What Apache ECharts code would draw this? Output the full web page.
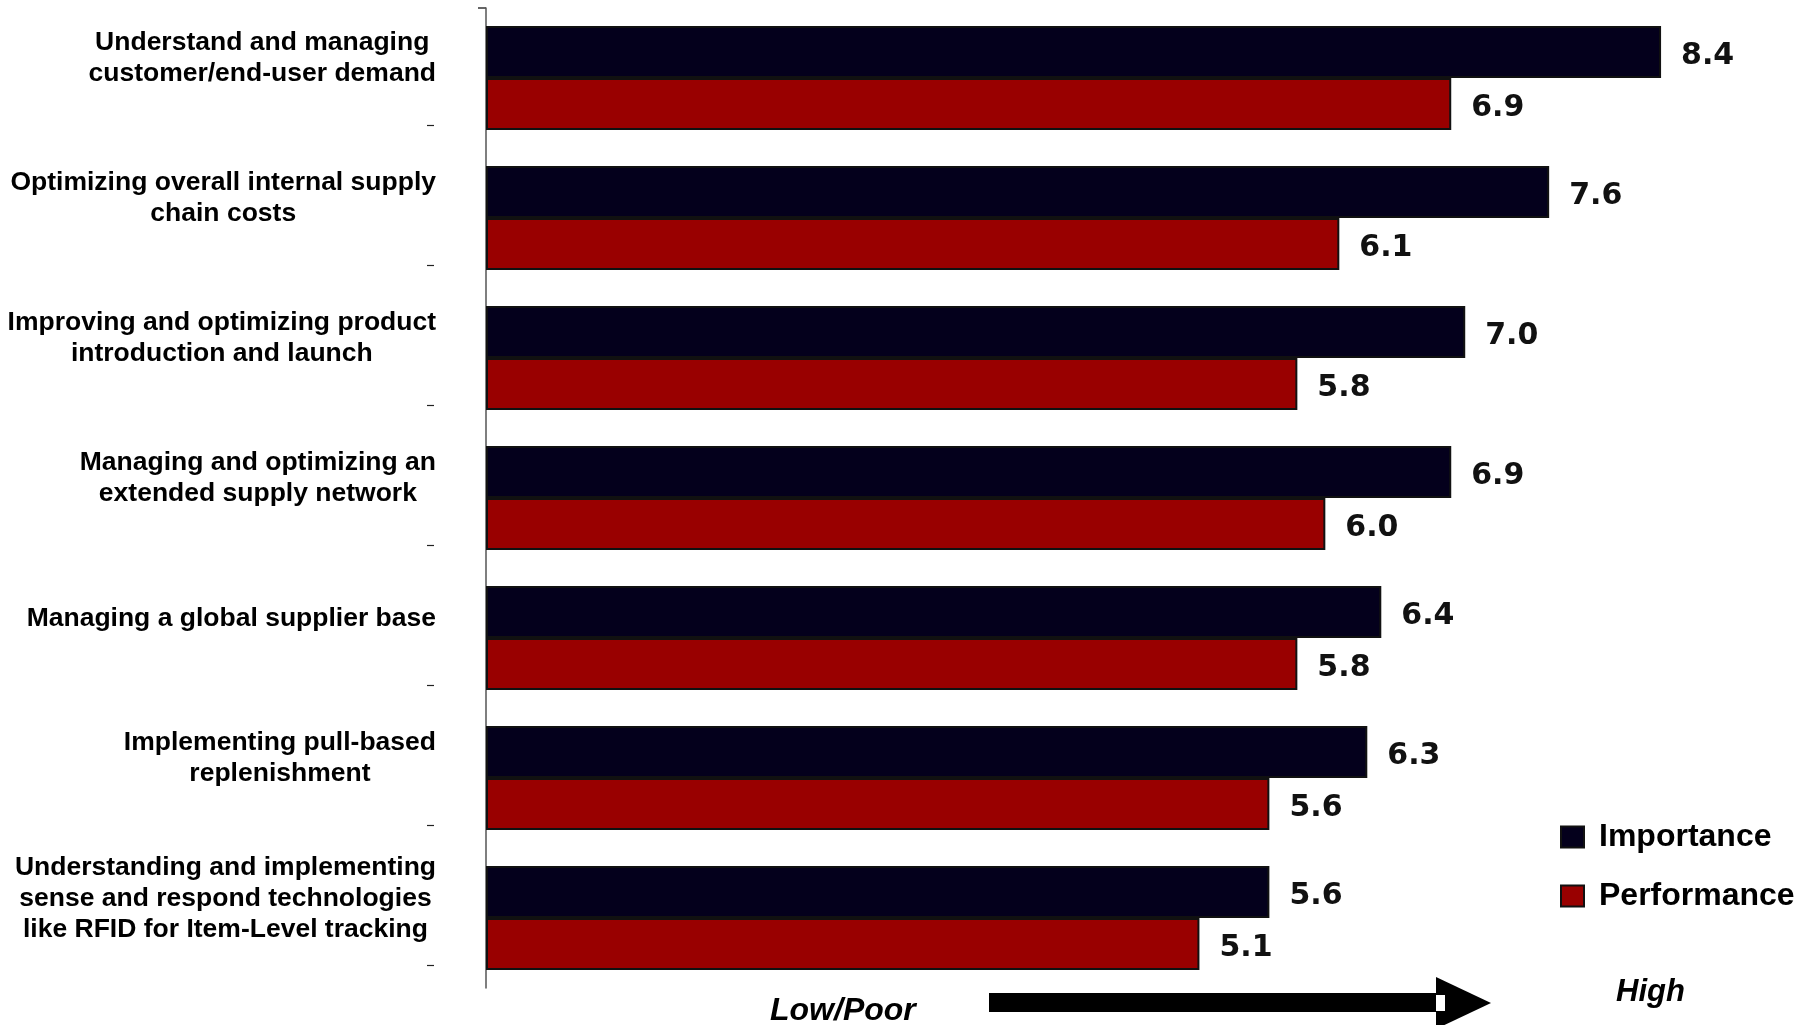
<!DOCTYPE html>
<html>
<head>
<meta charset="utf-8">
<title>Supply chain capabilities: importance vs performance</title>
<script src="https://cdn.jsdelivr.net/npm/echarts/dist/echarts.min.js"></script>
<style>
  html, body { margin: 0; padding: 0; background: #fff; }
  #chart { width: 1804px; height: 1025px; }
</style>
</head>
<body>
<div id="chart"></div>
<script>
// Capability areas (top to bottom)
const categories = [
  'Understand and managing\ncustomer/end-user demand',
  'Optimizing overall internal supply\nchain costs',
  'Improving and optimizing product\nintroduction and launch',
  'Managing and optimizing an\nextended supply network',
  'Managing a global supplier base',
  'Implementing pull-based\nreplenishment',
  'Understanding and implementing\nsense and respond technologies\nlike RFID for Item-Level tracking'
];
const importance = [8.4, 7.6, 7.0, 6.9, 6.4, 6.3, 5.6];
const performance = [6.9, 6.1, 5.8, 6.0, 5.8, 5.6, 5.1];
const seriesNames = ['Importance', 'Performance'];
const scaleLabels = ['Low/Poor', 'High'];

const NAVY = '#04001c';
const RED = '#990000';
const LABEL_FONT = 'Liberation Sans, Arial, sans-serif';
const VALUE_FONT = 'DejaVu Sans, Verdana, sans-serif';

const chart = echarts.init(document.getElementById('chart'), null, { renderer: 'canvas' });

function valueLabel() {
  return {
    show: true,
    position: 'right',
    distance: 20,
    offset: [0, 4],
    fontFamily: VALUE_FONT,
    fontWeight: 'bold',
    fontSize: 30,
    color: '#111',
    formatter: p => Number(p.value).toFixed(1)
  };
}

const option = {
  backgroundColor: '#ffffff',
  animation: false,
  grid: [
    // plotting area for the bars
    { left: 486, right: 59, top: 8, height: 980 },
    // strip holding the small separator marks left of the captions
    { left: 486, right: 59, top: 125, height: 840 }
  ],
  xAxis: [
    { gridIndex: 0, type: 'value', min: 0, max: 9, show: false },
    { gridIndex: 1, type: 'value', min: 0, max: 9, show: false }
  ],
  yAxis: [
    {
      gridIndex: 0,
      type: 'category',
      position: 'left',
      inverse: true,
      data: categories,
      axisLine: { show: true, onZero: false, lineStyle: { color: '#555', width: 1.5 } },
      axisTick: { show: false },
      splitLine: { show: false },
      axisLabel: {
        show: true,
        margin: 50,
        align: 'right',
        padding: [0, 0, 39, 0],
        formatter: v => v.split('\n').map(line => '{c|' + line + '}').join('\n'),
        rich: {
          c: {
            align: 'center',
            fontFamily: LABEL_FONT,
            fontWeight: 'bold',
            fontSize: 26.5,
            lineHeight: 31,
            color: '#000'
          }
        }
      }
    },
    {
      gridIndex: 1,
      type: 'category',
      position: 'left',
      inverse: true,
      offset: 52,
      data: categories.slice(0, 6),
      axisLine: { show: false, onZero: false },
      axisTick: { show: true, length: 7, lineStyle: { color: '#222', width: 1.2 } },
      axisLabel: { show: false },
      splitLine: { show: false }
    }
  ],
  legend: {
    orient: 'vertical',
    left: 1560,
    top: 819,
    padding: 0,
    itemWidth: 23,
    itemHeight: 21,
    itemGap: 23,
    icon: 'rect',
    data: seriesNames,
    textStyle: {
      fontFamily: LABEL_FONT,
      fontWeight: 'bold',
      fontSize: 32,
      lineHeight: 36,
      color: '#000',
      padding: [0, 0, 0, 10]
    }
  },
  series: [
    {
      name: seriesNames[0],
      type: 'bar',
      xAxisIndex: 0,
      yAxisIndex: 0,
      data: importance,
      barWidth: 52,
      barGap: '0%',
      itemStyle: { color: NAVY, borderColor: '#111', borderWidth: 2 },
      label: valueLabel()
    },
    {
      name: seriesNames[1],
      type: 'bar',
      xAxisIndex: 0,
      yAxisIndex: 0,
      data: performance,
      barWidth: 52,
      barGap: '0%',
      itemStyle: { color: RED, borderColor: '#111', borderWidth: 2 },
      label: valueLabel()
    }
  ],
  graphic: [
    // cap mark at the top of the category axis
    { type: 'line', shape: { x1: 478, y1: 8, x2: 486, y2: 8 }, style: { stroke: '#333', lineWidth: 1.5 } },
    // scale arrow under the bars
    { type: 'rect', shape: { x: 989, y: 993, width: 447, height: 19 }, style: { fill: '#000' } },
    { type: 'polygon', shape: { points: [[1436, 977], [1491, 1003], [1436, 1029]] }, style: { fill: '#000' } },
    { type: 'rect', shape: { x: 1436, y: 995, width: 9, height: 16 }, style: { fill: '#fff' } },
    {
      type: 'text',
      style: {
        text: scaleLabels[0], x: 770, y: 1011,
        font: 'italic bold 32px ' + LABEL_FONT,
        fill: '#000', textVerticalAlign: 'middle'
      }
    },
    {
      type: 'text',
      style: {
        text: scaleLabels[1], x: 1616, y: 992,
        font: 'italic bold 31px ' + LABEL_FONT,
        fill: '#000', textVerticalAlign: 'middle'
      }
    }
  ]
};

chart.setOption(option);
</script>
</body>
</html>
